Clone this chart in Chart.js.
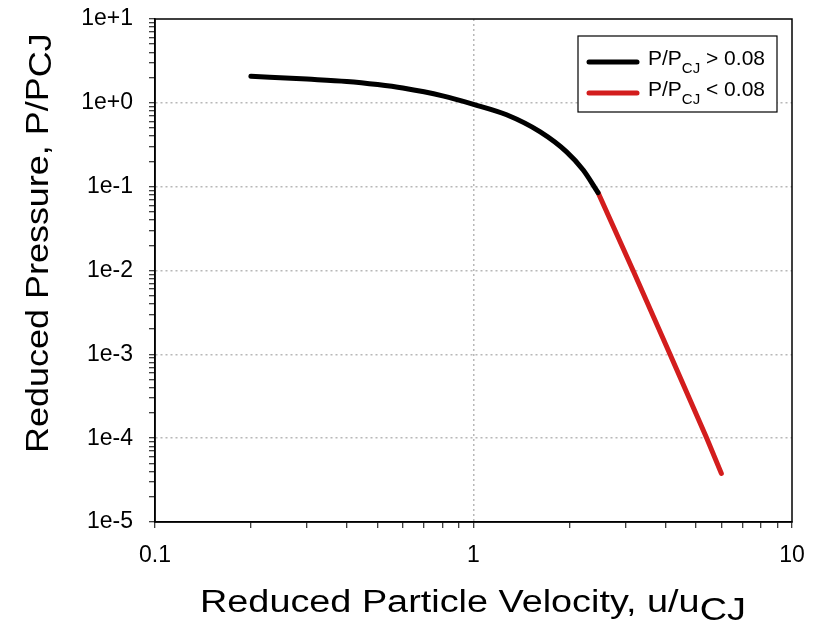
<!DOCTYPE html>
<html>
<head>
<meta charset="utf-8">
<script src="https://cdn.jsdelivr.net/npm/chart.js@4.4.0/dist/chart.umd.min.js"></script>
<style>
  html, body { margin: 0; padding: 0; background: #fff; }
</style>
</head>
<body>
<canvas id="grafica" width="814" height="625"></canvas>
<script>
// tramo negro: P/PCJ > 0.08
const velAlta = [0.2, 0.3, 0.4, 0.5, 0.6, 0.8, 1.0, 1.27, 1.62, 1.96, 2.21, 2.46];
const presAlta = [2.08, 1.92, 1.80, 1.65, 1.50, 1.21, 0.96, 0.72, 0.45, 0.26, 0.158, 0.085];
// tramo rojo: P/PCJ < 0.08
const velBaja = [2.46, 3.17, 4.14, 5.40, 6.0];
const presBaja = [0.085, 0.01, 0.001, 0.0001, 0.000038];

const xTickLabels = ['0.1', '1', '10'];          // 10^-1 .. 10^1
const yTickLabels = ['1e-5', '1e-4', '1e-3', '1e-2', '1e-1', '1e+0', '1e+1']; // 10^-5 .. 10^1
const leyendas = [['P/P', 'CJ', ' > 0.08'], ['P/P', 'CJ', ' < 0.08']];
const colores = ['#000000', '#d31d1d'];

const FUENTE = 'Arial, "Liberation Sans", sans-serif';

// marcas de un eje log: 1..9 en cada decada
function marcas(expMin, expMax) {
  const t = [];
  for (let e = expMin; e < expMax; e++) {
    for (let s = 1; s < 10; s++) t.push({ value: Number((s * Math.pow(10, e)).toPrecision(3)) });
  }
  t.push({ value: Math.pow(10, expMax) });
  return t;
}

function exponente(v) {
  const l = Math.log10(v);
  return Math.abs(l - Math.round(l)) < 1e-9 ? Math.round(l) : null;
}

function colorRejilla(c, expMin, expMax) {
  if (!c.tick) return 'rgba(0,0,0,0)';
  const e = exponente(c.tick.value);
  if (e === null || e === expMin || e === expMax) return 'rgba(0,0,0,0)';
  return '#b8b8b8';
}

// texto con subindice: [texto, sub, resto]
function escribir(ctx, partes, tam, tamSub, baja) {
  let x = 0;
  ctx.font = tam + 'px ' + FUENTE;
  ctx.fillText(partes[0], 0, 0);
  x += ctx.measureText(partes[0]).width;
  ctx.font = tamSub + 'px ' + FUENTE;
  ctx.fillText(partes[1], x, baja);
  x += ctx.measureText(partes[1]).width;
  if (partes[2]) {
    ctx.font = tam + 'px ' + FUENTE;
    ctx.fillText(partes[2], x, 0);
  }
}

const decorado = {
  id: 'decorado',
  afterDraw(chart) {
    const { ctx, chartArea: a } = chart;
    ctx.save();
    // marco
    ctx.strokeStyle = '#000';
    ctx.lineWidth = 1.5;
    ctx.strokeRect(a.left, a.top, a.right - a.left, a.bottom - a.top);

    ctx.fillStyle = '#000';
    ctx.textBaseline = 'alphabetic';
    ctx.textAlign = 'left';

    // titulo eje x
    ctx.save();
    ctx.translate(200, 612);
    ctx.scale(1.22, 1);
    escribir(ctx, ['Reduced Particle Velocity, u/u', 'CJ'], 31, 31, 8);
    ctx.restore();

    // titulo eje y
    ctx.save();
    ctx.translate(48, 453);
    ctx.rotate(-Math.PI / 2);
    ctx.scale(1.16, 1);
    escribir(ctx, ['Reduced Pressure, P/P', 'CJ'], 31, 31, 3);
    ctx.restore();

    // leyenda
    ctx.fillStyle = '#fff';
    ctx.fillRect(578, 36, 199, 76);
    ctx.strokeStyle = '#000';
    ctx.lineWidth = 1.2;
    ctx.strokeRect(578, 36, 199, 76);
    const filas = [62, 93];
    leyendas.forEach((lab, i) => {
      ctx.strokeStyle = colores[i];
      ctx.lineWidth = 5;
      ctx.lineCap = 'round';
      ctx.beginPath();
      ctx.moveTo(589, filas[i]);
      ctx.lineTo(637, filas[i]);
      ctx.stroke();
      ctx.fillStyle = '#000';
      ctx.save();
      ctx.translate(648, filas[i] + 3);
      escribir(ctx, lab, 21, 15, 8);
      ctx.restore();
    });
    ctx.restore();
  }
};

const ctx = document.getElementById('grafica').getContext('2d');
const myChart = new Chart(ctx, {
  type: 'line',
  data: {
    datasets: [
      {
        label: 'P/PCJ > 0.08',
        data: velAlta.map((u, i) => ({ x: u, y: presAlta[i] })),
        borderColor: colores[0],
        borderWidth: 5,
        pointRadius: 0,
        cubicInterpolationMode: 'monotone',
        borderCapStyle: 'round',
        borderJoinStyle: 'round'
      },
      {
        label: 'P/PCJ < 0.08',
        data: velBaja.map((u, i) => ({ x: u, y: presBaja[i] })),
        borderColor: colores[1],
        borderWidth: 5,
        pointRadius: 0,
        tension: 0,
        borderCapStyle: 'round',
        borderJoinStyle: 'round'
      }
    ]
  },
  options: {
    responsive: false,
    animation: false,
    layout: { padding: { top: 19, right: 22, left: 0, bottom: 0 } },
    plugins: {
      legend: { display: false },
      tooltip: { enabled: false }
    },
    scales: {
      x: {
        type: 'logarithmic',
        min: 0.1,
        max: 10,
        afterBuildTicks: s => { s.ticks = marcas(-1, 1); },
        afterFit: s => { s.height = 103; s.paddingLeft = 0; s.paddingRight = 0; },
        ticks: {
          autoSkip: false,
          maxRotation: 0,
          padding: 14,
          color: '#000',
          font: { family: FUENTE, size: 23 },
          callback: v => {
            const e = exponente(v);
            return e === null ? '' : xTickLabels[e + 1];
          }
        },
        grid: {
          color: c => colorRejilla(c, -1, 1),
          lineWidth: 1.5,
          tickColor: '#000',
          tickLength: 6,
          tickWidth: 1
        },
        border: { color: '#000', width: 1.5, dash: [2, 3] }
      },
      y: {
        type: 'logarithmic',
        min: 0.00001,
        max: 10,
        afterBuildTicks: s => { s.ticks = marcas(-5, 1); },
        afterFit: s => { s.width = 155; s.paddingTop = 0; s.paddingBottom = 0; },
        ticks: {
          autoSkip: false,
          padding: 16,
          color: '#000',
          font: { family: FUENTE, size: 23 },
          callback: v => {
            const e = exponente(v);
            return e === null ? '' : yTickLabels[e + 5];
          }
        },
        grid: {
          color: c => colorRejilla(c, -5, 1),
          lineWidth: 1.5,
          tickColor: '#000',
          tickLength: 6,
          tickWidth: 1
        },
        border: { color: '#000', width: 1.5, dash: [2, 3] }
      }
    }
  },
  plugins: [decorado]
});
</script>
</body>
</html>
